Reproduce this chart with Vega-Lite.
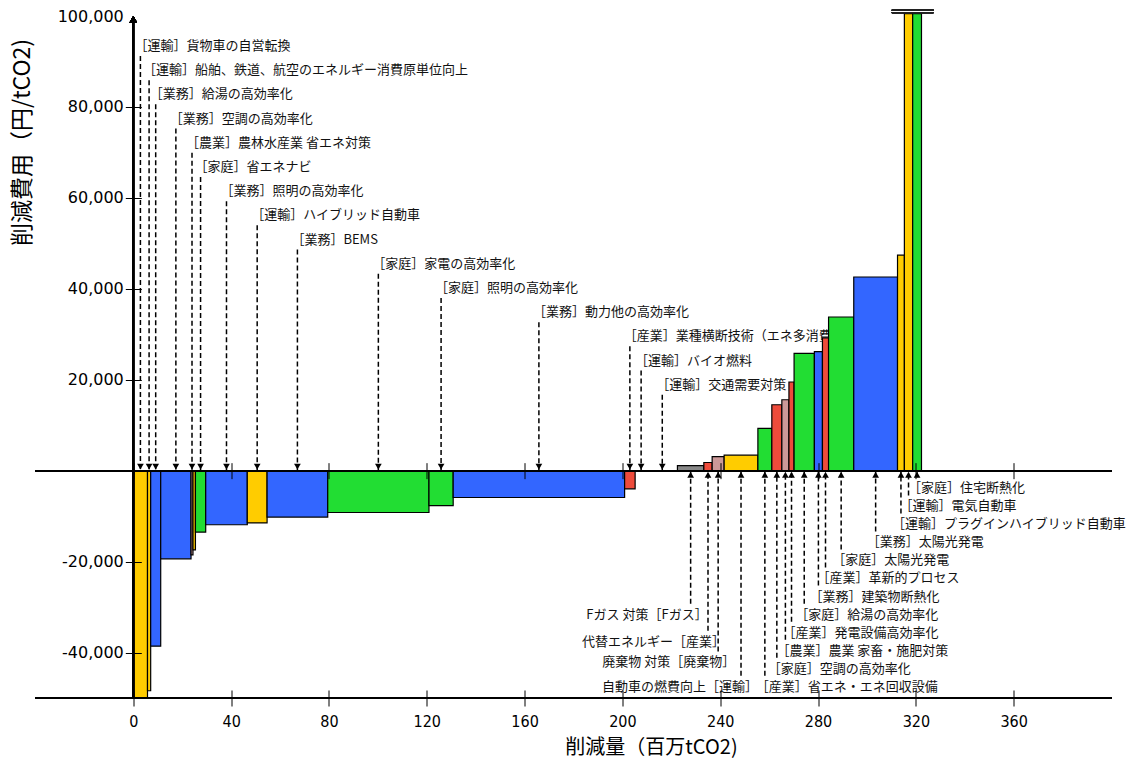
{
  "$schema": "https://vega.github.io/schema/vega-lite/v6.json",
  "width": 1076,
  "height": 682,
  "autosize": {"type": "none"},
  "padding": {"left": 35.5, "top": 16, "right": 18.5, "bottom": 62},
  "config": {"view": {"stroke": null}, "font": "Noto Sans CJK JP"},
  "data": {
    "values": [
      {"x0": 0, "x1": 5.8, "cost": -50000, "sector": "運輸", "label": "［運輸］貨物車の自営転換", "lab": "top", "lvl": 1},
      {"x0": 5.8, "x1": 7.1, "cost": -48400, "sector": "運輸", "label": "［運輸］船舶、鉄道、航空のエネルギー消費原単位向上", "lab": "top", "lvl": 2},
      {"x0": 7.1, "x1": 11.2, "cost": -38600, "sector": "業務", "label": "［業務］給湯の高効率化", "lab": "top", "lvl": 3},
      {"x0": 11.2, "x1": 23.6, "cost": -19400, "sector": "業務", "label": "［業務］空調の高効率化", "lab": "top", "lvl": 4},
      {"x0": 23.6, "x1": 24.4, "cost": -18500, "sector": "農業", "label": "［農業］農林水産業 省エネ対策", "lab": "top", "lvl": 5},
      {"x0": 24.4, "x1": 25.4, "cost": -17400, "sector": "運輸", "label": "", "lab": "", "lvl": 0},
      {"x0": 25.4, "x1": 29.6, "cost": -13500, "sector": "家庭", "label": "［家庭］省エネナビ", "lab": "top", "lvl": 6},
      {"x0": 29.6, "x1": 46.6, "cost": -11900, "sector": "業務", "label": "［業務］照明の高効率化", "lab": "top", "lvl": 7},
      {"x0": 46.6, "x1": 54.7, "cost": -11500, "sector": "運輸", "label": "［運輸］ハイブリッド自動車", "lab": "top", "lvl": 8},
      {"x0": 54.7, "x1": 79.5, "cost": -10200, "sector": "業務", "label": "［業務］BEMS", "lab": "top", "lvl": 9},
      {"x0": 79.5, "x1": 120.9, "cost": -9200, "sector": "家庭", "label": "［家庭］家電の高効率化", "lab": "top", "lvl": 10},
      {"x0": 120.9, "x1": 130.8, "cost": -7700, "sector": "家庭", "label": "［家庭］照明の高効率化", "lab": "top", "lvl": 11},
      {"x0": 130.8, "x1": 200.9, "cost": -5900, "sector": "業務", "label": "［業務］動力他の高効率化", "lab": "top", "lvl": 12},
      {"x0": 200.9, "x1": 205.2, "cost": -4000, "sector": "産業", "label": "［産業］業種横断技術（エネ多消費産業）", "lab": "top", "lvl": 13},
      {"x0": 205.2, "x1": 210.1, "cost": 0, "sector": "運輸", "label": "［運輸］バイオ燃料", "lab": "top", "lvl": 14},
      {"x0": 210.1, "x1": 222.5, "cost": 0, "sector": "運輸", "label": "［運輸］交通需要対策", "lab": "top", "lvl": 15},
      {"x0": 222.5, "x1": 233.3, "cost": 1100, "sector": "Fガス", "label": "Fガス 対策［Fガス］", "lab": "left", "lvl": 7},
      {"x0": 233.3, "x1": 236.7, "cost": 1800, "sector": "産業", "label": "代替エネルギー［産業］", "lab": "left", "lvl": 8.5},
      {"x0": 236.7, "x1": 241.6, "cost": 3100, "sector": "廃棄物", "label": "廃棄物 対策［廃棄物］", "lab": "left", "lvl": 9.65},
      {"x0": 241.6, "x1": 255.4, "cost": 3400, "sector": "運輸", "label": "自動車の燃費向上［運輸］", "lab": "left", "lvl": 11},
      {"x0": 255.4, "x1": 261.1, "cost": 9300, "sector": "家庭", "label": "［産業］省エネ・エネ回収設備", "lab": "right", "lvl": 11},
      {"x0": 261.1, "x1": 265.2, "cost": 14500, "sector": "産業", "label": "［家庭］空調の高効率化", "lab": "right", "lvl": 10},
      {"x0": 265.2, "x1": 268.1, "cost": 15600, "sector": "農業", "label": "［農業］農業 家畜・施肥対策", "lab": "right", "lvl": 9},
      {"x0": 268.1, "x1": 270.2, "cost": 19500, "sector": "産業", "label": "［産業］発電設備高効率化", "lab": "right", "lvl": 8},
      {"x0": 270.2, "x1": 278.5, "cost": 25800, "sector": "家庭", "label": "［家庭］給湯の高効率化", "lab": "right", "lvl": 7},
      {"x0": 278.5, "x1": 281.8, "cost": 26200, "sector": "業務", "label": "［業務］建築物断熱化", "lab": "right", "lvl": 6},
      {"x0": 281.8, "x1": 284.3, "cost": 29200, "sector": "産業", "label": "［産業］革新的プロセス", "lab": "right", "lvl": 5},
      {"x0": 284.3, "x1": 294.6, "cost": 33800, "sector": "家庭", "label": "［家庭］太陽光発電", "lab": "right", "lvl": 4},
      {"x0": 294.6, "x1": 312.5, "cost": 42600, "sector": "業務", "label": "［業務］太陽光発電", "lab": "right", "lvl": 3},
      {"x0": 312.5, "x1": 315.3, "cost": 47400, "sector": "運輸", "label": "［運輸］プラグインハイブリッド自動車", "lab": "right", "lvl": 2},
      {"x0": 315.3, "x1": 318.7, "cost": 100500, "sector": "運輸", "label": "［運輸］電気自動車", "lab": "right", "lvl": 1},
      {"x0": 318.7, "x1": 322.3, "cost": 100500, "sector": "家庭", "label": "［家庭］住宅断熱化", "lab": "right", "lvl": 0}
    ]
  },
  "transform": [
    {"calculate": "(datum.x0 + datum.x1) / 2", "as": "mid"},
    {"calculate": "datum.lab == 'top' ? 93410 - (datum.lvl - 1) * 5322 : -(3871 + datum.lvl * 3968)", "as": "ly"},
    {"calculate": "datum.lab == 'top' ? datum.ly - 2200 : datum.ly + 2400", "as": "lend"},
    {"calculate": "datum.lab == 'top' ? 900 : -900", "as": "ahead"}
  ],
  "layer": [
    {
      "transform": [{"filter": "datum.lab == 'top'"}],
      "mark": {"type": "text", "align": "left", "baseline": "middle", "dx": -6, "fontSize": 13, "font": "Noto Sans CJK JP", "color": "#111111"},
      "encoding": {
        "x": {"field": "mid", "type": "quantitative", "scale": {"domain": [-40, 400], "nice": false, "zero": false}, "axis": null},
        "y": {"field": "ly", "type": "quantitative", "scale": {"domain": [-50000, 100000], "nice": false, "zero": false}, "axis": null},
        "text": {"field": "label"}
      }
    },
    {
      "transform": [{"filter": "datum.lab == 'right'"}],
      "mark": {"type": "text", "align": "left", "baseline": "middle", "dx": -9, "fontSize": 13, "font": "Noto Sans CJK JP", "color": "#111111"},
      "encoding": {
        "x": {"field": "mid", "type": "quantitative", "axis": null},
        "y": {"field": "ly", "type": "quantitative", "axis": null},
        "text": {"field": "label"}
      }
    },
    {
      "transform": [{"filter": "datum.lab == 'left'"}],
      "mark": {"type": "text", "align": "right", "baseline": "middle", "dx": 17, "fontSize": 13, "font": "Noto Sans CJK JP", "color": "#111111"},
      "encoding": {
        "x": {"field": "mid", "type": "quantitative", "axis": null},
        "y": {"field": "ly", "type": "quantitative", "axis": null},
        "text": {"field": "label"}
      }
    },
    {
      "transform": [{"filter": "datum.lab != ''"}],
      "mark": {"type": "rule", "color": "black", "strokeWidth": 1.5, "strokeDash": [5, 3]},
      "encoding": {
        "x": {"field": "mid", "type": "quantitative", "axis": {"orient": "top", "offset": -462.67, "values": [0, 40, 80, 120, 160, 200, 240, 280, 320, 360], "labels": false, "domain": false, "grid": false, "ticks": true, "tickSize": 16, "tickColor": "black", "tickWidth": 1, "title": null, "zindex": 1}},
        "y": {"field": "lend", "type": "quantitative", "axis": null},
        "y2": {"datum": 0}
      }
    },
    {
      "transform": [{"filter": "datum.lab != ''"}],
      "mark": {"type": "point", "filled": true, "color": "black", "size": 45, "opacity": 1},
      "encoding": {
        "x": {"field": "mid", "type": "quantitative", "axis": null},
        "y": {"field": "ahead", "type": "quantitative", "axis": null},
        "shape": {"field": "lab", "type": "nominal", "scale": {"domain": ["top", "right", "left"], "range": ["triangle-down", "triangle-up", "triangle-up"]}, "legend": null}
      }
    },
    {
      "mark": {"type": "rect", "stroke": "black", "strokeWidth": 1.2},
      "encoding": {
        "x": {"field": "x0", "type": "quantitative", "axis": {"orient": "bottom", "offset": -8, "values": [0, 40, 80, 120, 160, 200, 240, 280, 320, 360], "domain": false, "grid": false, "tickSize": 16, "tickColor": "black", "tickWidth": 1, "labelFont": "Liberation Sans Narrow, DejaVu Sans Condensed, Liberation Sans, sans-serif", "labelFontSize": 16, "labelColor": "black", "labelPadding": 7, "title": "削減量（百万tCO2)", "titleFont": "Noto Sans CJK JP", "titleFontSize": 20, "titleFontWeight": "normal", "titleColor": "black", "titleX": 615.5, "titleY": 57, "titleBaseline": "middle", "titleAlign": "center", "zindex": 1}},
        "x2": {"field": "x1"},
        "y": {"field": "cost", "type": "quantitative", "axis": {"orient": "left", "offset": -105.8, "values": [-40000, -20000, 0, 20000, 40000, 60000, 80000, 100000], "domain": false, "grid": false, "tickSize": 16, "tickWidth": 1, "tickColor": {"condition": {"test": "datum.value == 100000", "value": "transparent"}, "value": "black"}, "labelExpr": "datum.value == 0 ? '' : replace(format(datum.value, ','), '\u2212', '-')", "labelFont": "DejaVu Sans", "labelFontSize": 16, "labelColor": "black", "labelPadding": 2, "title": "削減費用（円/tCO2)", "titleFont": "Noto Sans CJK JP", "titleFontSize": 23, "titleFontWeight": "normal", "titleColor": "black", "titleAngle": 270, "titleX": -119.3, "titleY": 126, "titleBaseline": "middle", "titleAlign": "center", "zindex": 1}},
        "y2": {"datum": 0},
        "color": {"field": "sector", "type": "nominal", "scale": {"domain": ["運輸", "業務", "家庭", "産業", "農業", "廃棄物", "Fガス"], "range": ["#FFCC00", "#3366FF", "#22DD33", "#EE4B3B", "#CC9999", "#CC9999", "#888888"]}, "legend": null}
      }
    },
    {
      "mark": {"type": "rule", "color": "black", "strokeWidth": 1.2},
      "encoding": {"y": {"datum": 0, "axis": null}}
    },
    {
      "mark": {"type": "rule", "color": "black", "strokeWidth": 1.2},
      "encoding": {"y": {"datum": -50000, "axis": null}}
    },
    {
      "mark": {"type": "rule", "color": "black", "strokeWidth": 1.5},
      "encoding": {"x": {"datum": 0, "axis": null}, "y": {"datum": -50000, "axis": null}, "y2": {"datum": 99000}}
    },
    {
      "mark": {"type": "point", "shape": "triangle-up", "filled": true, "color": "black", "size": 55, "opacity": 1},
      "encoding": {"x": {"datum": 0, "axis": null}, "y": {"datum": 99300, "axis": null}}
    },
    {
      "mark": {"type": "rule", "color": "#222222", "strokeWidth": 1},
      "encoding": {"x": {"datum": 310.2, "axis": null}, "x2": {"datum": 327.2}, "y": {"datum": 101250, "axis": null}}
    },
    {
      "mark": {"type": "rule", "color": "#222222", "strokeWidth": 1},
      "encoding": {"x": {"datum": 310.2, "axis": null}, "x2": {"datum": 327.2}, "y": {"datum": 100750, "axis": null}}
    }
  ],
  "resolve": {"axis": {"x": "independent", "y": "independent"}}
}
